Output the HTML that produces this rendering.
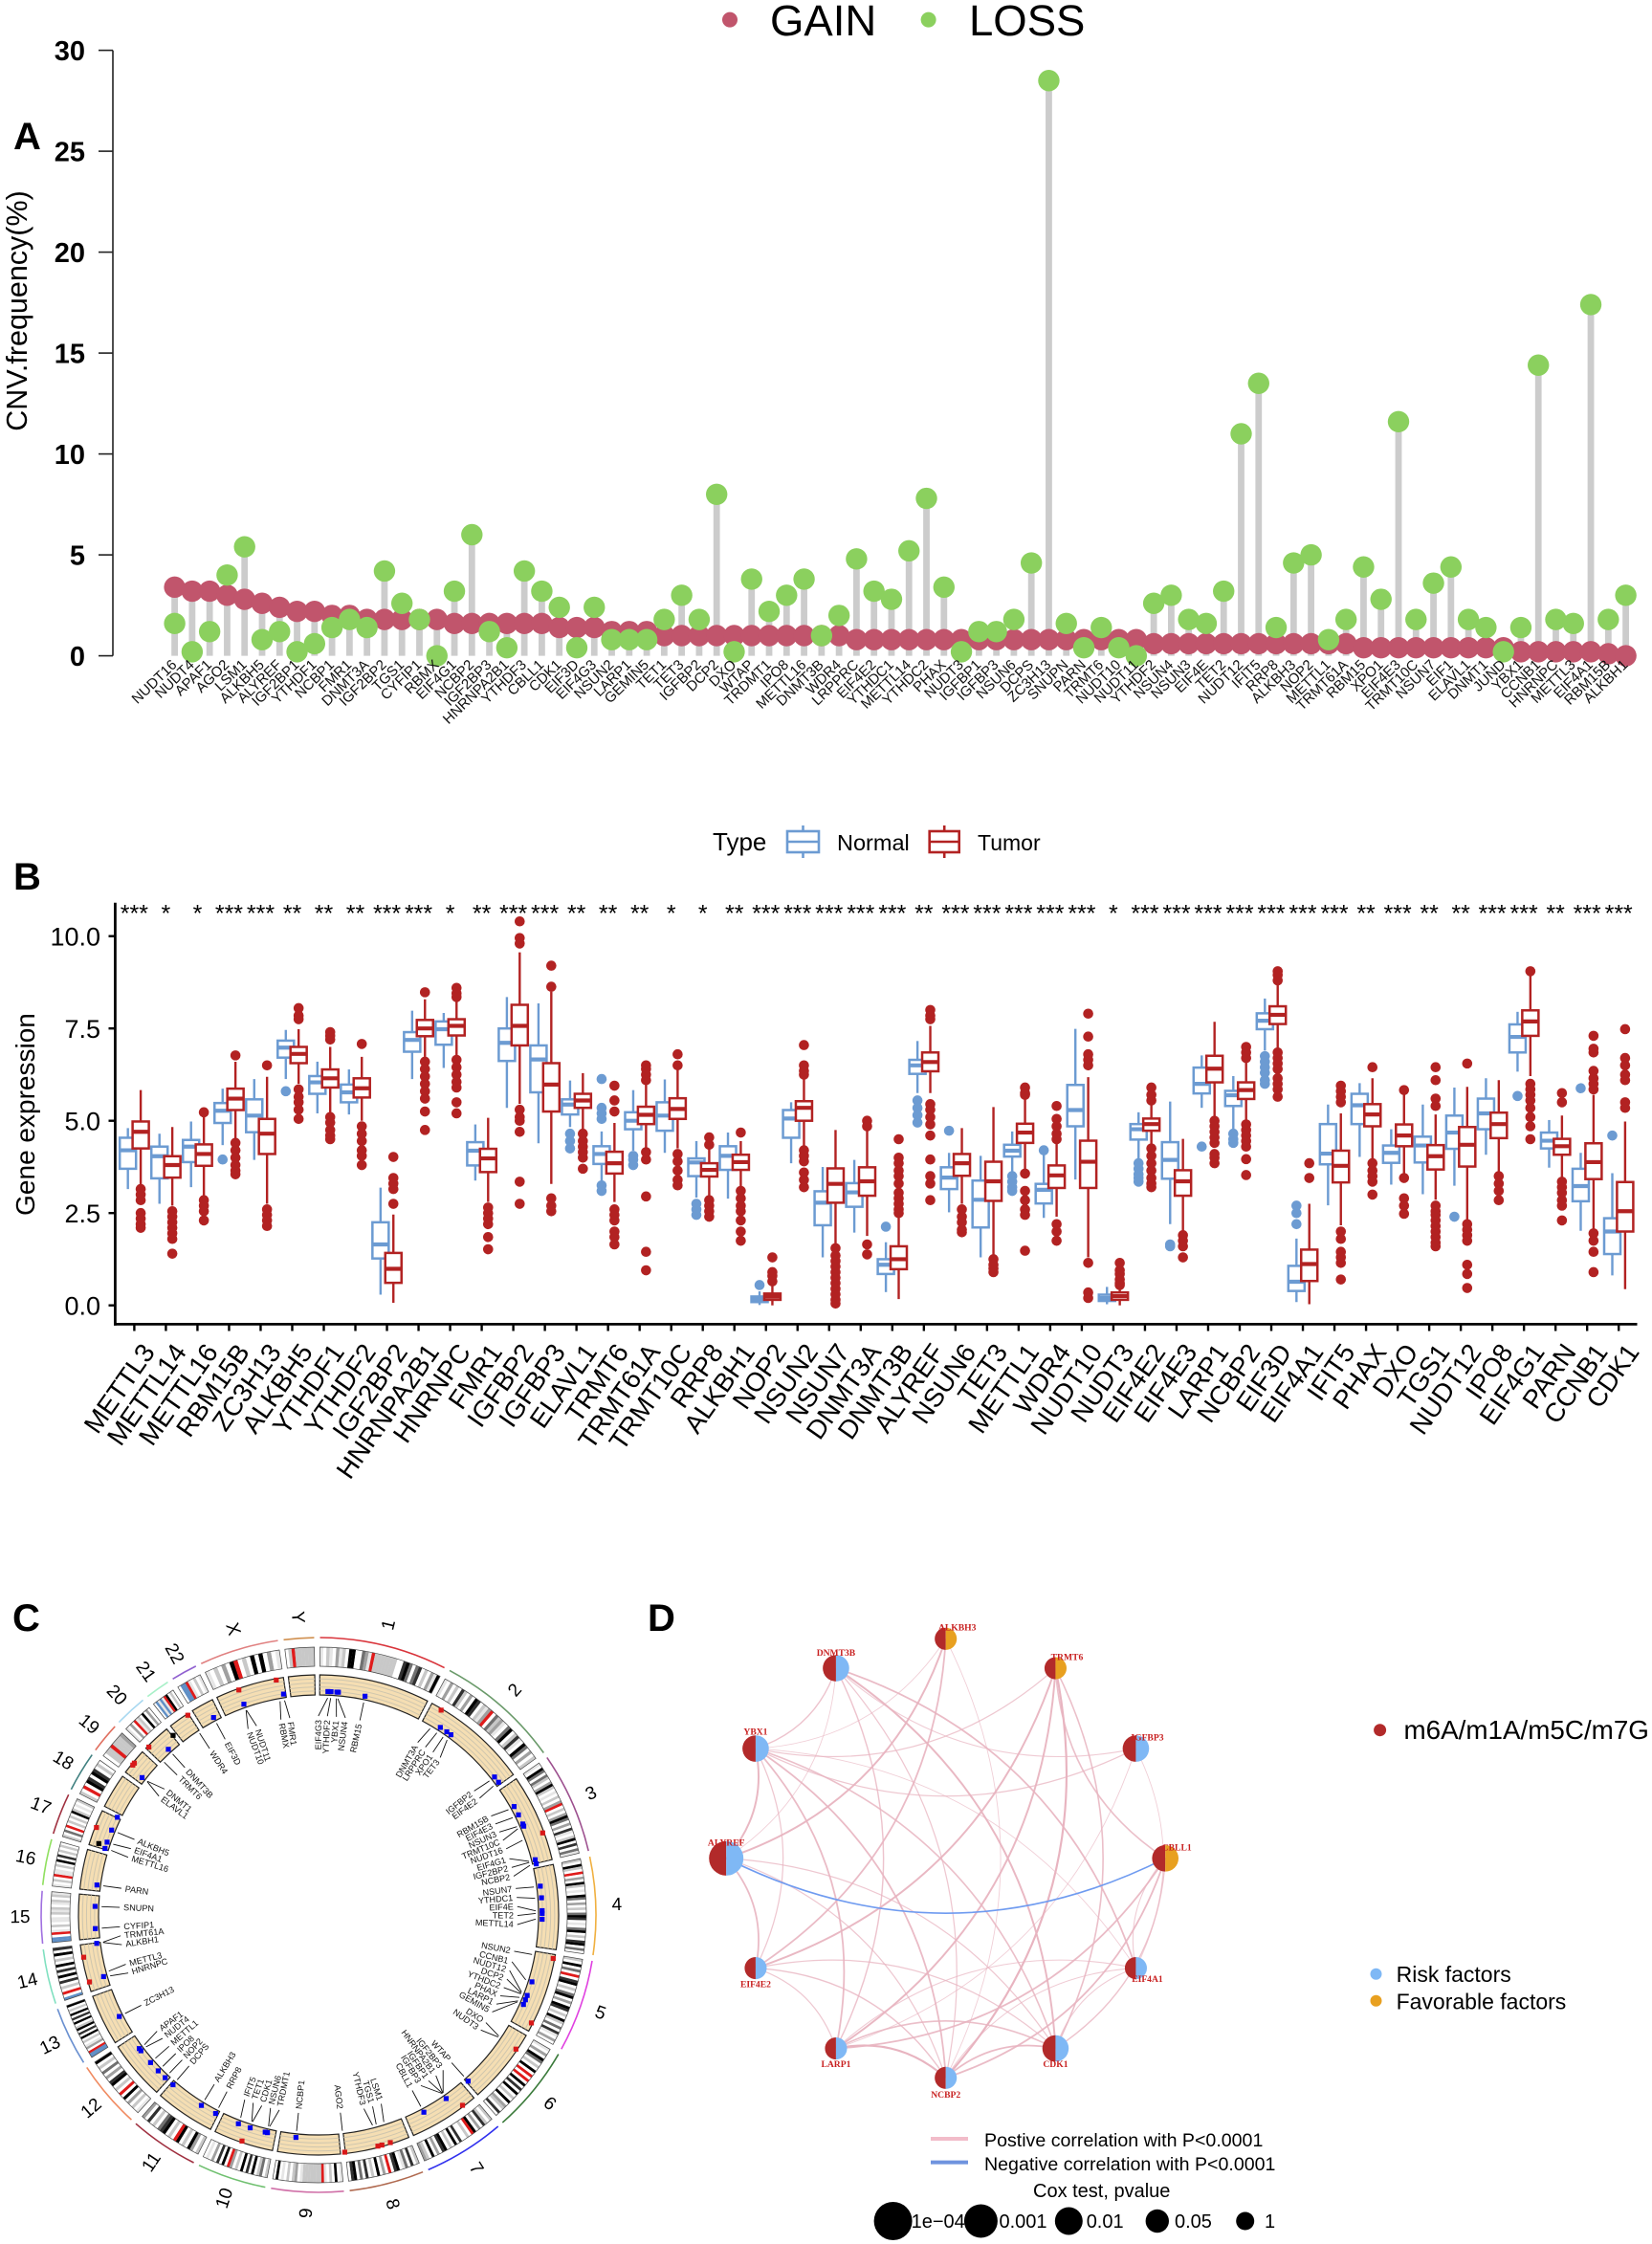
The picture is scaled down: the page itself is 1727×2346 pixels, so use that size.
<!DOCTYPE html>
<html lang="en">
<head>
<meta charset="utf-8">
<title>CNV, expression, circos and network figure</title>
<style>
html,body{margin:0;padding:0;background:#fff;}
svg{display:block;font-family:"Liberation Sans",sans-serif;}
</style>
</head>
<body>
<svg id="fig" xmlns="http://www.w3.org/2000/svg" width="1727" height="2346" viewBox="0 0 1727 2346">
  <rect x="0" y="0" width="1727" height="2346" fill="#fff"/>

  <g id="panelA">
    <text x="14" y="156" font-size="40" font-weight="bold">A</text>
    <circle cx="763" cy="20.6" r="8" fill="#C1556C"/>
    <text x="805" y="37" font-size="45.5">GAIN</text>
    <circle cx="970.6" cy="20.6" r="8" fill="#8BD05E"/>
    <text x="1013" y="37" font-size="45.5">LOSS</text>
    <text transform="translate(28,325) rotate(-90)" text-anchor="middle" font-size="30.5">CNV.frequency(%)</text>
  </g>

  <g id="panelB">
    <text x="14" y="930" font-size="40" font-weight="bold">B</text>
    <text x="745" y="889" font-size="26">Type</text>
    <g stroke="#6C9BD2" stroke-width="2.6" fill="#fff">
      <line x1="839.5" x2="839.5" y1="863" y2="897"/>
      <rect x="823" y="869" width="33" height="22"/>
      <line x1="823" x2="856" y1="880" y2="880"/>
    </g>
    <text x="875" y="889" font-size="23.5">Normal</text>
    <g stroke="#B22222" stroke-width="2.6" fill="#fff">
      <line x1="987.2" x2="987.2" y1="863" y2="897"/>
      <rect x="971.7" y="869" width="31" height="22"/>
      <line x1="971.7" x2="1002.7" y1="880" y2="880"/>
    </g>
    <text x="1022" y="889" font-size="23">Tumor</text>
    <text transform="translate(36,1165) rotate(-90)" text-anchor="middle" font-size="28">Gene expression</text>
  </g>

  <g id="panelC">
    <text x="13" y="1705" font-size="40" font-weight="bold">C</text>
  </g>

  <g id="panelD">
    <text x="677" y="1705" font-size="40" font-weight="bold">D</text>
    <circle cx="1442.6" cy="1808.7" r="6.5" fill="#B22A2A"/>
    <text x="1467.5" y="1818" font-size="27.8">m6A/m1A/m5C/m7G</text>
    <circle cx="1438.5" cy="2063.8" r="6" fill="#7FB8F5"/>
    <text x="1459.6" y="2072" font-size="23">Risk factors</text>
    <circle cx="1438.5" cy="2091.8" r="6" fill="#E8A020"/>
    <text x="1459.6" y="2100.5" font-size="23">Favorable factors</text>
    <line x1="973" x2="1012" y1="2236" y2="2236" stroke="#F2BCC9" stroke-width="4"/>
    <text x="1029" y="2244" font-size="19.6">Postive correlation with P&lt;0.0001</text>
    <line x1="973" x2="1012" y1="2260.6" y2="2260.6" stroke="#6F93DE" stroke-width="4"/>
    <text x="1029" y="2269" font-size="19.6">Negative correlation with P&lt;0.0001</text>
    <text x="1080" y="2297" font-size="20">Cox test, pvalue</text>
    <circle cx="933.6" cy="2322" r="20"/>
    <text x="952.6" y="2329" font-size="20">1e−04</text>
    <circle cx="1025.4" cy="2322" r="17.5"/>
    <text x="1044.5" y="2329" font-size="20">0.001</text>
    <circle cx="1117.3" cy="2322" r="14.5"/>
    <text x="1135.7" y="2329" font-size="20">0.01</text>
    <circle cx="1209.8" cy="2322" r="12.2"/>
    <text x="1228" y="2329" font-size="20">0.05</text>
    <circle cx="1301.7" cy="2322" r="9.5"/>
    <text x="1322" y="2329" font-size="20">1</text>
  </g>
</svg>

<script>
/* ---------- Panel A data ---------- */
const cnvGenes = ["NUDT16","NUDT4","APAF1","AGO2","LSM1","ALKBH5","ALYREF","IGF2BP1","YTHDF1","NCBP1","FMR1","DNMT3A","IGF2BP2","TGS1","CYFIP1","RBMX","EIF4G1","NCBP2","IGF2BP3","HNRNPA2B1","YTHDF3","CBLL1","CDK1","EIF3D","EIF4G3","NSUN2","LARP1","GEMIN5","TET1","TET3","IGFBP2","DCP2","DXO","WTAP","TRDMT1","IPO8","METTL16","DNMT3B","WDR4","LRPPRC","EIF4E2","YTHDC1","METTL14","YTHDC2","PHAX","NUDT3","IGFBP1","IGFBP3","NSUN6","DCPS","ZC3H13","SNUPN","PARN","TRMT6","NUDT10","NUDT11","YTHDF2","NSUN4","NSUN3","EIF4E","TET2","NUDT12","IFIT5","RRP8","ALKBH3","NOP2","METTL1","TRMT61A","RBM15","XPO1","EIF4E3","TRMT10C","NSUN7","EIF1","ELAVL1","DNMT1","JUND","YBX1","CCNB1","HNRNPC","METTL3","EIF4A1","RBM15B","ALKBH1"];
const gainValues = [3.4,3.2,3.2,3.0,2.8,2.6,2.4,2.2,2.2,2.0,2.0,1.8,1.8,1.8,1.8,1.8,1.6,1.6,1.6,1.6,1.6,1.6,1.4,1.4,1.4,1.2,1.2,1.2,1.0,1.0,1.0,1.0,1.0,1.0,1.0,1.0,1.0,1.0,1.0,0.8,0.8,0.8,0.8,0.8,0.8,0.8,0.8,0.8,0.8,0.8,0.8,0.8,0.8,0.8,0.8,0.8,0.6,0.6,0.6,0.6,0.6,0.6,0.6,0.6,0.6,0.6,0.6,0.6,0.4,0.4,0.4,0.4,0.4,0.4,0.4,0.4,0.4,0.2,0.2,0.2,0.2,0.2,0.1,0];
const lossValues = [1.6,0.2,1.2,4.0,5.4,0.8,1.2,0.2,0.6,1.4,1.8,1.4,4.2,2.6,1.8,0,3.2,6.0,1.2,0.4,4.2,3.2,2.4,0.4,2.4,0.8,0.8,0.8,1.8,3.0,1.8,8.0,0.2,3.8,2.2,3.0,3.8,1.0,2.0,4.8,3.2,2.8,5.2,7.8,3.4,0.2,1.2,1.2,1.8,4.6,28.5,1.6,0.4,1.4,0.4,0,2.6,3.0,1.8,1.6,3.2,11.0,13.5,1.4,4.6,5.0,0.8,1.8,4.4,2.8,11.6,1.8,3.6,4.4,1.8,1.4,0.2,1.4,14.4,1.8,1.6,17.4,1.8,3.0];
const cnvTicks = [0,5,10,15,20,25,30];

/* ---------- Panel B data: [whisker low, Q1, median, Q3, whisker high] ---------- */
const exprGenes = ["METTL3","METTL14","METTL16","RBM15B","ZC3H13","ALKBH5","YTHDF1","YTHDF2","IGF2BP2","HNRNPA2B1","HNRNPC","FMR1","IGFBP2","IGFBP3","ELAVL1","TRMT6","TRMT61A","TRMT10C","RRP8","ALKBH1","NOP2","NSUN2","NSUN7","DNMT3A","DNMT3B","ALYREF","NSUN6","TET3","METTL1","WDR4","NUDT10","NUDT3","EIF4E2","EIF4E3","LARP1","NCBP2","EIF3D","EIF4A1","IFIT5","PHAX","DXO","TGS1","NUDT12","IPO8","EIF4G1","PARN","CCNB1","CDK1"];
const sigLabels = ["***","*","*","***","***","**","**","**","***","***","*","**","***","***","**","**","**","*","*","**","***","***","***","***","***","**","***","***","***","***","***","*","***","***","***","***","***","***","***","**","***","**","**","***","***","**","***","***"];
const exprTicks = [0,2.5,5,7.5,10];
const normalStats = [[3.15,3.7,4.2,4.54,4.8],[2.75,3.44,4.04,4.3,4.65],[3.2,3.88,4.3,4.48,4.98],[4.34,4.94,5.27,5.48,5.87],[3.94,4.69,5.14,5.58,6.13],[6.13,6.71,6.98,7.17,7.46],[5.2,5.73,6.04,6.21,6.6],[5.17,5.5,5.77,5.98,6.39],[0.29,1.27,1.65,2.25,3.19],[6.13,6.87,7.19,7.4,7.98],[6.43,7.06,7.48,7.69,7.92],[3.38,3.79,4.19,4.42,4.9],[5.35,6.62,7.11,7.5,8.35],[4.39,5.77,6.66,7.04,8.18],[4.83,5.17,5.44,5.58,6.09],[3.36,3.83,4.1,4.31,4.71],[4.19,4.77,5.0,5.23,5.83],[4.13,4.73,5.14,5.5,6.12],[2.92,3.5,3.87,3.98,4.45],[2.89,3.67,4.05,4.31,4.68],[0.01,0.09,0.17,0.24,0.38],[3.85,4.54,5.06,5.29,5.5],[1.3,2.17,2.78,3.09,3.75],[1.97,2.67,3.06,3.31,3.94],[0.36,0.85,1.1,1.25,1.71],[5.75,6.27,6.5,6.65,7.16],[2.52,3.15,3.46,3.74,4.13],[1.3,2.11,2.86,3.38,4.05],[3.61,4.03,4.19,4.35,4.71],[2.37,2.76,3.13,3.29,4.08],[3.41,4.85,5.29,5.97,7.49],[0.03,0.12,0.2,0.29,0.5],[3.96,4.49,4.77,4.91,5.23],[2.2,3.43,3.94,4.42,5.52],[5.35,5.74,6.0,6.44,6.77],[4.71,5.4,5.69,5.81,6.21],[6.9,7.48,7.71,7.91,8.31],[0.09,0.39,0.64,1.07,1.81],[2.71,3.82,4.11,4.91,5.44],[4.02,4.91,5.42,5.73,6.02],[3.27,3.86,4.13,4.33,4.77],[3.01,3.87,4.33,4.57,5.44],[3.24,4.24,4.68,5.14,5.9],[4.08,4.77,5.2,5.6,6.15],[6.33,6.85,7.27,7.61,7.95],[3.73,4.25,4.46,4.68,5.02],[2.02,2.82,3.23,3.7,4.13],[0.81,1.39,2.0,2.36,3.58]];
const tumorStats = [[3.27,4.25,4.7,4.98,5.83],[2.7,3.46,3.8,4.04,4.83],[2.9,3.78,4.1,4.36,5.2],[4.48,5.29,5.6,5.87,6.6],[2.75,4.1,4.65,5.05,6.19],[6.0,6.56,6.81,7.0,7.48],[5.2,5.9,6.15,6.39,7.0],[5.0,5.63,5.88,6.15,6.73],[0.07,0.61,0.99,1.42,2.46],[6.73,7.29,7.5,7.73,8.29],[6.73,7.31,7.57,7.75,8.33],[2.8,3.61,3.98,4.24,5.08],[5.46,7.04,7.57,8.14,9.56],[3.29,5.25,5.98,6.56,8.5],[4.77,5.35,5.55,5.73,6.29],[2.8,3.57,3.85,4.16,4.94],[4.08,4.91,5.16,5.38,6.15],[4.25,5.05,5.32,5.61,6.5],[2.9,3.49,3.67,3.85,4.6],[3.2,3.67,3.88,4.08,4.45],[0,0.15,0.24,0.32,0.55],[4.31,5.0,5.35,5.53,6.18],[1.65,2.78,3.29,3.71,4.75],[1.88,2.97,3.36,3.74,4.86],[0.17,0.98,1.25,1.6,2.46],[5.75,6.34,6.59,6.85,7.57],[2.75,3.51,3.85,4.1,4.8],[1.36,2.83,3.36,3.89,5.37],[3.67,4.4,4.68,4.92,5.7],[2.4,3.18,3.52,3.79,4.6],[1.3,3.18,3.89,4.46,6.18],[0,0.15,0.25,0.35,0.5],[4.36,4.73,4.91,5.06,5.46],[2.0,2.97,3.36,3.66,4.51],[5.09,6.04,6.41,6.76,7.68],[5.0,5.59,5.83,6.04,6.67],[6.96,7.62,7.87,8.1,8.69],[0.03,0.66,1.12,1.51,2.75],[2.17,3.33,3.78,4.19,5.2],[3.96,4.85,5.17,5.45,6.15],[3.58,4.31,4.6,4.9,5.72],[2.86,3.68,4.04,4.34,5.17],[2.29,3.76,4.35,4.83,5.92],[3.61,4.53,4.91,5.22,6.1],[6.21,7.3,7.69,7.99,8.95],[3.44,4.08,4.31,4.51,5.14],[2.05,3.42,3.88,4.39,5.7],[0.44,2.0,2.55,3.34,4.98]];
const normalOutliers = [[],[],[],[3.95],[],[5.8],[],[],[],[],[],[],[],[],[4.65,4.45,4.25],[6.13,5.35,5.2,5.05,3.25,3.1],[4.05,3.95,3.8],[],[2.75,2.6,2.45],[],[0.55],[],[],[],[2.13],[5.55,5.35,5.15,4.95],[4.73],[],[3.5,3.35,3.2,3.1],[4.2],[],[],[3.85,3.7,3.55,3.45,3.35],[1.65,1.6],[4.3],[4.65,4.5,4.4],[6.75,6.6,6.45,6.3,6.1,6.0],[2.7,2.5,2.2],[],[],[],[],[2.4],[],[5.67],[],[5.88],[4.6]];
const tumorOutliers = [[3.15,3.0,2.85,2.5,2.35,2.2,2.1],[2.55,2.4,2.25,2.1,1.95,1.8,1.4],[5.23,2.85,2.7,2.55,2.3],[6.77,4.4,4.2,4.0,3.8,3.65,3.55],[6.5,2.6,2.45,2.3,2.15],[8.05,7.85,7.75,5.85,5.65,5.5,5.3,5.05],[7.4,7.3,7.2,5.1,4.95,4.75,4.6,4.5],[7.08,4.85,4.65,4.45,4.2,4.05,3.8],[4.02,3.45,3.3,3.15,2.75],[8.48,6.6,6.4,6.2,6.0,5.8,5.6,5.25,4.75],[8.6,8.45,8.35,6.65,6.45,6.25,6.05,5.9,5.5,5.2],[2.65,2.5,2.35,2.2,1.85,1.52],[10.4,9.95,9.8,5.3,5.1,5.0,4.7,3.35,2.75],[9.2,8.63,2.9,2.7,2.55],[4.65,4.45,4.3,4.15,4.0,3.7],[5.95,5.55,5.25,2.6,2.45,2.3,2.0,1.85,1.65],[6.5,6.4,6.25,6.1,4.15,3.95,2.95,1.45,0.95],[6.8,6.5,4.1,3.9,3.65,3.4,3.25],[4.55,4.35,2.85,2.7,2.55,2.4],[4.68,3.1,2.9,2.7,2.55,2.3,2.0,1.75],[1.3,0.9,0.8,0.65],[7.05,6.5,6.35,6.25,4.2,4.05,3.9,3.6,3.4,3.2],[1.55,1.35,1.2,1.05,0.9,0.75,0.6,0.45,0.3,0.15,0.05],[5.0,4.85,1.65,1.38],[4.5,4.0,3.85,3.65,3.5,3.3,3.05,2.9,2.75,2.6,2.5],[8.0,7.85,7.75,5.45,5.3,5.1,4.9,4.6,3.95,3.5,3.3,2.85],[2.6,2.4,2.25,2.05,1.98],[1.25,1.1,1.0,0.9],[5.9,5.75,5.7,3.57,3.1,2.85,2.6,2.45,1.48],[5.4,5.05,4.85,4.65,4.5,2.2,2.0,1.75],[7.9,7.28,6.8,6.65,6.5,1.15,0.35,0.2],[1.15,0.95,0.85,0.7,0.6,0.55],[5.9,5.7,5.55,4.25,4.05,3.85,3.65,3.45,3.3,3.2],[1.9,1.75,1.6,1.3],[5.0,4.85,4.7,4.55,4.4,4.1,4.0,3.85],[7.0,6.85,6.7,4.9,4.75,4.6,4.45,4.3,3.96,3.53],[9.05,8.95,8.8,6.85,6.7,6.55,6.4,6.15,6.0,5.85,5.65],[3.85,3.45],[5.95,5.8,5.65,5.5,2.0,1.8,1.45,1.3,1.15,0.7],[6.45,3.85,3.65,3.5,3.35,3.0],[5.83,3.45,2.9,2.7,2.48],[6.45,6.1,5.6,5.4,2.7,2.55,2.45,2.3,2.15,2.0,1.85,1.7,1.6],[6.55,2.2,2.05,1.9,1.75,1.1,0.85,0.47],[3.5,3.3,3.1,2.85],[9.05,6.0,5.85,5.7,5.55,5.35,5.1,4.85,4.5],[5.75,5.5,3.35,3.2,3.05,2.85,2.7,2.3],[7.3,6.95,6.85,6.35,6.15,6.0,5.85,1.95,1.75,1.45,0.9],[7.48,6.7,6.5,6.25,6.1,5.5,5.35]];

/* ---------- Panel C data ---------- */
const chromNames = ["1","2","3","4","5","6","7","8","9","10","11","12","13","14","15","16","17","18","19","20","21","22","X","Y"];
const chromLengths = [249,243,198,191,181,171,159,146,141,135,135,133,115,107,102,90,81,78,59,63,48,51,155,59];
const chromColors = ["#D9343B","#6A9A6A","#9C4F8E","#F0B040","#E040E0","#3A7A3A","#3030EE","#B06A50","#D070A8","#70C070","#A03040","#F08A60","#6A90D0","#80E0C0","#A070E0","#90E060","#A03040","#408080","#E07060","#A8D8F0","#A8F0C8","#9060D0","#E08080","#D09050"];
const chromBands = ["1021031206600431r222222200564045020316","10302052030650213r0423104602510640302","10640420362010203r0203640305102605041","20620r0306201064030204650104602056040","206040r05602046030650206204051030","10306402060r0r0605060206032050","20250306r0200506020650306023","2050410650r03060205040650","1060201r222222210320201060","20420605060203r060503010","20360206r020654020503","10203060r0206503040206","bbr0310206050620605060206","b0r0205060506020605","bb0r1020110212012021","1020r1102060502020","2040r02020620102","20r065065020","022r2223","1030r1206030","0b1b1r6020","0bbr10201","1020306r0206060301","02r222222"];
const geneLabels = ["EIF4G3","YTHDF2","YBX1","NSUN4","RBM15","DNMT3A","LRPPRC","XPO1","TET3","IGFBP2","EIF4E2","RBM15B","EIF4E3","NSUN3","TRMT10C","NUDT16","EIF4G1","IGF2BP2","NCBP2","NSUN7","YTHDC1","EIF4E","TET2","METTL14","NSUN2","CCNB1","NUDT12","DCP2","YTHDC2","PHAX","LARP1","GEMIN5","DXO","NUDT3","WTAP","IGF2BP3","HNRNPA2B1","IGFBP1","IGFBP3","CBLL1","LSM1","TGS1","YTHDF3","AGO2","NCBP1","TRDMT1","NSUN6","CDK1","TET1","IFIT5","RRP8","ALKBH3","DCPS","NOP2","IPO8","METTL1","NUDT4","APAF1","ZC3H13","HNRNPC","METTL3","ALKBH1","TRMT61A","CYFIP1","SNUPN","PARN","METTL16","EIF4A1","ALKBH5","ELAVL1","DNMT1","TRMT6","DNMT3B","WDR4","EIF3D","NUDT10","NUDT11","RBMX","FMR1"];
const geneAngles = [2.4,3.2,4.7,5.1,12,30.9,33,35,36.3,51.9,53.6,61,63.4,66,66.6,69.9,75.7,76,76.8,82.6,85.6,88.9,89.6,91.1,100.5,107.4,110.8,111.1,111.3,112.3,113.3,113.6,123.9,124.2,138,145,145.1,145.2,145.3,151.9,162.5,164.6,165.6,173.7,185.8,193,193.3,197.7,197.9,201,207.4,211.6,220.6,223.3,225.8,228.7,232.6,233.3,243,253.7,255,262.7,262.8,266.5,272.2,277.7,287.3,289,292.3,307.9,308,314.7,317.8,326.8,332,340.5,340.6,349.8,351];
const blueMarks = [2.4,3.2,4.7,5.1,12,33,35,36.3,51.9,53.6,61,63.4,66,66.6,75.7,76.8,82.6,85.6,88.9,89.6,91.1,107.4,111.1,112.3,113.6,138,145.2,151.9,185.8,193.2,193.8,197.8,201,207.4,211.6,220.6,223.3,225.8,228.7,232.6,233.3,243,254,262.7,266.5,272.2,277.7,287.3,289,292.3,295.9,307.9,317.8,332,340.5,351];
const redMarks = [30.9,69.9,100.5,116.9,124.2,142.9,162.5,164.6,165.6,173.7,198.7,253.7,259.8,291.5,308.9,309.5,314.7,326.8,340.5,349.8];
const blackMarks = [288,321];

/* ---------- Panel D data ---------- */
const netNodes = ["ALKBH3","DNMT3B","YBX1","ALYREF","EIF4E2","LARP1","NCBP2","CDK1","EIF4A1","CBLL1","IGFBP3","TRMT6"];
const netPvalues = [0.04,0.008,0.008,0.0004,0.04,0.04,0.04,0.008,0.04,0.008,0.008,0.04];
const netFavorable = ["ALKBH3","TRMT6","CBLL1"];
const edgeSources = ["YBX1","YBX1","ALYREF","EIF4E2","YBX1","EIF4E2","LARP1","NCBP2","CDK1","TRMT6","DNMT3B","EIF4A1","CDK1","NCBP2","LARP1","ALYREF","YBX1","ALYREF","EIF4E2","LARP1","NCBP2","CDK1","EIF4A1","EIF4E2","NCBP2","CDK1","LARP1","NCBP2","CDK1","NCBP2","CDK1","EIF4A1","LARP1","LARP1","CDK1","EIF4A1","NCBP2","EIF4A1","CDK1","CBLL1","EIF4A1","NCBP2"];
const edgeTargets = ["DNMT3B","ALKBH3","ALKBH3","ALKBH3","TRMT6","TRMT6","TRMT6","TRMT6","TRMT6","CBLL1","IGFBP3","DNMT3B","DNMT3B","DNMT3B","DNMT3B","DNMT3B","IGFBP3","YBX1","YBX1","YBX1","YBX1","YBX1","YBX1","ALYREF","ALYREF","ALYREF","EIF4E2","EIF4E2","EIF4E2","LARP1","LARP1","LARP1","CBLL1","IGFBP3","NCBP2","NCBP2","CBLL1","CDK1","CBLL1","EIF4A1","IGFBP3","ALKBH3"];
const edgeCorrelations = [0.6,0.45,0.75,0.7,0.55,0.75,0.75,0.8,0.65,0.65,0.5,0.7,0.75,0.55,0.6,0.45,0.55,0.75,0.55,0.7,0.7,0.65,0.45,0.7,0.55,0.55,0.55,0.6,0.55,0.8,0.65,0.5,0.7,0.45,0.7,0.5,0.7,0.5,0.6,0.5,0.45,0.45];
const negSources = ["ALYREF"];
const negTargets = ["CBLL1"];

/* ---------- Helpers ---------- */
const NS = "http://www.w3.org/2000/svg";
function mk(parent, tag, attrs, text) {
  const el = document.createElementNS(NS, tag);
  for (const k in attrs) el.setAttribute(k, attrs[k]);
  if (text !== undefined) el.textContent = text;
  parent.appendChild(el);
  return el;
}
const slug = s => String(s).toLowerCase().replace(/[^a-z0-9]+/g, "-");

/* ---------- Panel A ---------- */
(function () {
  const g = document.getElementById("panelA");
  const yA = v => 685.6 - v * 21.1;
  const xA = i => 182.6 + i * (1699.6 - 182.6) / (cnvGenes.length - 1);

  const axis = mk(g, "line", { x1: 118, x2: 118, y1: yA(30), y2: yA(0), stroke: "#222", "stroke-width": 1.6 });
  
  

  cnvTicks.forEach(t => {
    const tick = mk(g, "line", { x1: 103, x2: 118, y1: yA(t), y2: yA(t), stroke: "#222", "stroke-width": 1.6 });
    
    
    const lab = mk(g, "text", { x: 89, y: yA(t) + 10.5, "text-anchor": "end", "font-size": 29, "font-weight": "bold" }, t);
    
    
  });

  cnvGenes.forEach((name, i) => {
    const top = Math.max(gainValues[i], lossValues[i]);
    const stem = mk(g, "line", { x1: xA(i), x2: xA(i), y1: yA(0), y2: yA(top), stroke: "#CCCCCC", "stroke-width": 6.8 });
    
    
  });
  cnvGenes.forEach((name, i) => {
    const dot = mk(g, "circle", { cx: xA(i), cy: yA(gainValues[i]), r: 11.2, fill: "#C1556C" });
    
    
  });
  cnvGenes.forEach((name, i) => {
    const dot = mk(g, "circle", { cx: xA(i), cy: yA(lossValues[i]), r: 11.2, fill: "#8BD05E" });
    
    
  });
  cnvGenes.forEach((name, i) => {
    const lab = mk(g, "text", { transform: "translate(" + (xA(i) + 3) + ",696) rotate(-44)", "text-anchor": "end", "font-size": 15, fill: "#111" }, name);
    
    
  });
})();

/* ---------- Panel B ---------- */
(function () {
  const g = document.getElementById("panelB");
  const yB = v => 1364.7 - v * 38.6;
  const xB = i => 140.4 + i * (1692.2 - 140.4) / (exprGenes.length - 1);
  const BLUE = "#6C9BD2", RED = "#B22222";

  const yAxis = mk(g, "line", { x1: 120.4, x2: 120.4, y1: 943.7, y2: 1385.8, stroke: "#000", "stroke-width": 2.8 });
  
  
  const xAxis = mk(g, "line", { x1: 119, x2: 1711.5, y1: 1384.4, y2: 1384.4, stroke: "#000", "stroke-width": 2.8 });
  
  

  exprTicks.forEach(t => {
    const tick = mk(g, "line", { x1: 113.5, x2: 120.4, y1: yB(t), y2: yB(t), stroke: "#000", "stroke-width": 2.4 });
    
    
    const lab = mk(g, "text", { x: 105, y: yB(t) + 10, "text-anchor": "end", "font-size": 27 }, t.toFixed(1));
    
    
  });

  function drawBox(name, kind, cx, s, outs, col) {
    const box = mk(g, "g", {});
    
    
    const wh = mk(box, "line", { x1: cx, x2: cx, y1: yB(s[0]), y2: yB(s[4]), stroke: col, "stroke-width": 2.4 });
    
    
    outs.forEach(v => {
      const o = mk(box, "circle", { cx: cx, cy: yB(v), r: 5.3, fill: col });
      
      
    });
    const rect = mk(box, "rect", { x: cx - 8.5, y: yB(s[3]), width: 17, height: yB(s[1]) - yB(s[3]), fill: "#fff", stroke: col, "stroke-width": 2.5 });
    
    
    const med = mk(box, "line", { x1: cx - 8.5, x2: cx + 8.5, y1: yB(s[2]), y2: yB(s[2]), stroke: col, "stroke-width": 4.2 });
    
    
  }

  exprGenes.forEach((name, i) => {
    drawBox(name, 'normal', xB(i) - 6.7, normalStats[i], normalOutliers[i], BLUE);
  });
  exprGenes.forEach((name, i) => {
    drawBox(name, 'tumor', xB(i) + 6.7, tumorStats[i], tumorOutliers[i], RED);
    const tick = mk(g, "line", { x1: xB(i), x2: xB(i), y1: 1384.4, y2: 1391.5, stroke: "#000", "stroke-width": 2.4 });
    
    
    const lab = mk(g, "text", { transform: "translate(" + (xB(i) + 22.5) + ",1413.5) rotate(-55)", "text-anchor": "end", "font-size": 27.7 }, name);
    
    
    const star = mk(g, "text", { x: xB(i), y: 963.5, "text-anchor": "middle", "font-size": 25 }, sigLabels[i]);
    
    
  });
})();

/* ---------- Panel C ---------- */
(function () {
  const g = document.getElementById("panelC");
  const CX = 333, CY = 2002;
  const GAP = 1.2, START = 0.3;
  const total = chromLengths.reduce((a, b) => a + b, 0);
  const perMb = (360 - GAP * chromLengths.length) / total;
  const pt = (r, a) => {
    const t = a * Math.PI / 180;
    return [CX + r * Math.sin(t), CY - r * Math.cos(t)];
  };
  const arc = (r, a, b) => {
    const p = pt(r, a), q = pt(r, b);
    return "M" + p[0].toFixed(2) + " " + p[1].toFixed(2) + "A" + r + " " + r + " 0 0 1 " + q[0].toFixed(2) + " " + q[1].toFixed(2);
  };
  const sector = (r1, r2, a, b) => {
    const p1 = pt(r2, a), p2 = pt(r2, b), p3 = pt(r1, b), p4 = pt(r1, a);
    return "M" + p1[0].toFixed(2) + " " + p1[1].toFixed(2) + "A" + r2 + " " + r2 + " 0 0 1 " + p2[0].toFixed(2) + " " + p2[1].toFixed(2) +
      "L" + p3[0].toFixed(2) + " " + p3[1].toFixed(2) + "A" + r1 + " " + r1 + " 0 0 0 " + p4[0].toFixed(2) + " " + p4[1].toFixed(2) + "Z";
  };
  const shade = { "0": "#FFFFFF", "1": "#E6E6E6", "2": "#C8C8C8", "3": "#A0A0A0", "4": "#707070", "5": "#303030", "6": "#000000", r: "#E01B1B", b: "#5F8FC6" };
  const TR0 = 230, TR1 = 251;

  let a = START;
  chromNames.forEach((name, c) => {
    const a0 = a, a1 = a + chromLengths[c] * perMb;
    const outer = mk(g, "path", { d: arc(290, a0, a1), fill: "none", stroke: chromColors[c], "stroke-width": 1.6 });
    
    

    const bands = chromBands[c];
    const step = (a1 - a0) / bands.length;
    for (let b = 0; b < bands.length; b++) {
      const band = mk(g, "path", { d: sector(260, 280, a0 + b * step, a0 + (b + 1) * step + 0.03), fill: shade[bands[b]] });
      
      
    }
    const frame = mk(g, "path", { d: sector(260, 280, a0, a1), fill: "none", stroke: "#444", "stroke-width": 0.7 });
    
    

    const track = mk(g, "path", { d: sector(TR0, TR1, a0, a1), fill: "#F5DEB3", stroke: "#222", "stroke-width": 1.2 });
    
    
    for (let k = 1; k < 5; k++) {
      const gl = mk(g, "path", { d: arc(TR0 + (TR1 - TR0) * k / 5, a0, a1), fill: "none", stroke: "#CFC6AE", "stroke-width": 1 });
      
      
    }

    const mid = (a0 + a1) / 2;
    const p = pt(312, mid);
    const rot = mid < 180 ? mid - 90 : mid + 90;
    const lab = mk(g, "text", { transform: "translate(" + p[0] + "," + p[1] + ") rotate(" + rot + ")", "text-anchor": "middle", "dominant-baseline": "central", "font-size": 19 }, name);
    
    

    a = a1 + GAP;
  });

  function square(angle, level, col, nm) {
    const p = pt(TR0 + (TR1 - TR0) * level, angle);
    const s = mk(g, "rect", { x: p[0] - 2.6, y: p[1] - 2.6, width: 5.2, height: 5.2, fill: col });
    
    
  }
  blueMarks.forEach(v => square(v, 0.18, "#0000EE", 'loss-marker'));
  redMarks.forEach(v => square(v, 0.93, "#D81818", 'gain-marker'));
  blackMarks.forEach(v => square(v, 0.55, "#000000", 'both-marker'));

  /* spread the radial labels so they do not overlap */
  const SEP = 2.6;
  const spread = geneAngles.slice();
  for (let it = 0; it < 400; it++) {
    for (let i = 0; i < spread.length - 1; i++) {
      const d = spread[i + 1] - spread[i];
      if (d < SEP) {
        const m = (SEP - d) / 2;
        spread[i] -= m;
        spread[i + 1] += m;
      }
    }
  }
  geneLabels.forEach((name, i) => {
    const pa = pt(227, geneAngles[i]), pc = pt(208, spread[i]);
    const line = mk(g, "polyline", { points: pa.join(",") + " " + pc.join(","), fill: "none", stroke: "#111", "stroke-width": 0.9 });
    
    
    const p = pt(204, spread[i]);
    const right = spread[i] < 180;
    const rot = right ? spread[i] - 90 : spread[i] + 90;
    const lab = mk(g, "text", { transform: "translate(" + p[0] + "," + p[1] + ") rotate(" + rot + ")", "text-anchor": right ? "end" : "start", "dominant-baseline": "central", "font-size": 9.1, fill: "#111" }, name);
    
    
  });
})();

/* ---------- Panel D ---------- */
(function () {
  const g = document.getElementById("panelD");
  const CX = 988.7, CY = 1942.8, R = 229.5;
  const pos = name => {
    const i = netNodes.indexOf(name);
    const t = (-90 - 30 * i) * Math.PI / 180;
    return [CX + R * Math.cos(t), CY + R * Math.sin(t)];
  };
  const rad = p => 7 + 3.25 * (-Math.log10(p));
  const curve = (s, t) => {
    const a = pos(s), b = pos(t);
    const dx = b[0] - a[0], dy = b[1] - a[1];
    const mx = (a[0] + b[0]) / 2 - dy * 0.25, my = (a[1] + b[1]) / 2 + dx * 0.25;
    return "M" + a[0] + " " + a[1] + "Q" + mx + " " + my + " " + b[0] + " " + b[1];
  };
  edgeSources.forEach((s, i) => {
    const c = edgeCorrelations[i];
    const e = mk(g, "path", { d: curve(s, edgeTargets[i]), fill: "none", stroke: "#E8B4C0", "stroke-width": 0.7 + (c - 0.4) * 3.6, "stroke-opacity": Math.min(1, c + 0.2) });
    
    
  });
  negSources.forEach((s, i) => {
    const e = mk(g, "path", { d: curve(s, negTargets[i]), fill: "none", stroke: "#6F9BF0", "stroke-width": 1.6 });
    
    
  });

  const labelShift = { ALKBH3: [12, -9], DNMT3B: [0, -13], TRMT6: [12, -8.5], YBX1: [0, -14.5], IGFBP3: [12, -8.5], ALYREF: [0, -13.5], CBLL1: [12, -8.5], EIF4E2: [0, 20], EIF4A1: [12, 14.5], LARP1: [0, 19.6], CDK1: [0, 19.6], NCBP2: [0, 20.7] };
  netNodes.forEach((name, i) => {
    const p = pos(name), r = rad(netPvalues[i]);
    const left = mk(g, "path", { d: "M" + p[0] + " " + (p[1] - r) + "A" + r + " " + r + " 0 0 0 " + p[0] + " " + (p[1] + r) + "Z", fill: "#B22A2A" });
    
    
    const right = mk(g, "path", { d: "M" + p[0] + " " + (p[1] - r) + "A" + r + " " + r + " 0 0 1 " + p[0] + " " + (p[1] + r) + "Z", fill: netFavorable.includes(name) ? "#E8A020" : "#7FB8F5" });
    
    
    const shift = labelShift[name];
    const lab = mk(g, "text", { x: p[0] + shift[0], y: p[1] + shift[1], "text-anchor": "middle", "font-family": '"Liberation Serif",serif', "font-weight": "bold", "font-size": 9.6, fill: "#C82020" }, name);
    
    
  });
})();
</script>
</body>
</html>
